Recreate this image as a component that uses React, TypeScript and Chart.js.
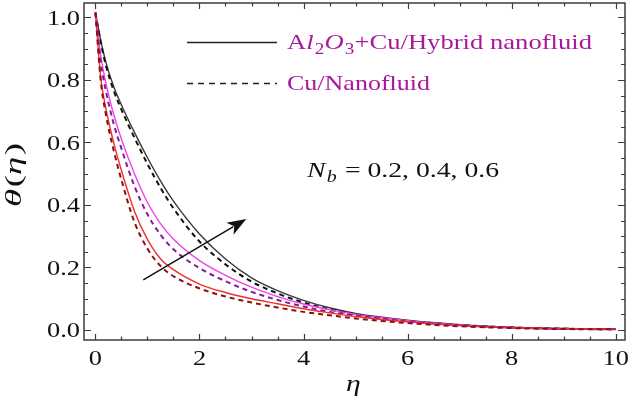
import React, { useEffect, useRef } from 'react';
import { Chart, registerables } from 'chart.js';

Chart.register(...registerables);

// ---- data ----
const eta = [0, 0.1, 0.2, 0.35, 0.5, 0.75, 1, 1.25, 1.5, 2, 2.5, 3, 3.5, 4, 4.5, 5, 6, 7, 8, 9, 10];
const hybridNb06 = [1.015, 0.928, 0.857, 0.779, 0.72, 0.632, 0.551, 0.477, 0.412, 0.307, 0.227, 0.167, 0.126, 0.095, 0.071, 0.053, 0.031, 0.017, 0.009, 0.005, 0.003];
const nanoNb06 = [1.015, 0.922, 0.847, 0.766, 0.705, 0.615, 0.531, 0.455, 0.389, 0.283, 0.21, 0.155, 0.117, 0.088, 0.066, 0.05, 0.029, 0.016, 0.008, 0.004, 0.002];
const hybridNb04 = [1.015, 0.88, 0.79, 0.69, 0.61, 0.5, 0.408, 0.34, 0.29, 0.222, 0.175, 0.137, 0.107, 0.083, 0.065, 0.05, 0.03, 0.016, 0.008, 0.004, 0.002];
const nanoNb04 = [1.015, 0.86, 0.765, 0.66, 0.58, 0.46, 0.37, 0.305, 0.258, 0.198, 0.156, 0.122, 0.096, 0.075, 0.058, 0.046, 0.027, 0.015, 0.008, 0.004, 0.002];
const hybridNb02 = [1.015, 0.81, 0.71, 0.6, 0.51, 0.38, 0.29, 0.228, 0.193, 0.147, 0.12, 0.1, 0.084, 0.068, 0.055, 0.043, 0.026, 0.014, 0.007, 0.004, 0.002];
const nanoNb02 = [1.015, 0.8, 0.69, 0.575, 0.48, 0.345, 0.26, 0.205, 0.172, 0.133, 0.107, 0.088, 0.072, 0.058, 0.047, 0.037, 0.022, 0.012, 0.006, 0.003, 0.002];

const xTickValues = [0, 2, 4, 6, 8, 10];
const yTickValues = [0, 0.2, 0.4, 0.6, 0.8, 1.0];
const legendHybrid = ['A', 'l', '2', 'O', '3', '+Cu/Hybrid nanofluid'];
const legendNano = 'Cu/Nanofluid';
const nbLabel = ['N', 'b', ' = 0.2, 0.4, 0.6'];
const arrowStart = [0.92, 0.16];
const arrowEnd = [2.9, 0.355];

const SERIF = "'Liberation Serif', 'Times New Roman', serif";
const STRETCH = 1.2;

type Run = { t: string; italic?: boolean; sub?: boolean };

function runsWidth(ctx: CanvasRenderingContext2D, runs: Run[], size: number) {
  let w = 0;
  for (const r of runs) {
    const fs = r.sub ? size * 0.72 : size;
    ctx.font = `${r.italic ? 'italic ' : ''}${fs}px ${SERIF}`;
    w += ctx.measureText(r.t).width + (r.italic ? 1 : 0);
  }
  return w;
}

// draws runs with baseline at (x,y); width stretched to target (or STRETCH factor)
function drawRuns(
  ctx: CanvasRenderingContext2D, x: number, y: number, runs: Run[], size: number, color: string,
  opts: { target?: number; align?: 'left' | 'center' | 'right'; rotate?: number } = {},
) {
  ctx.save();
  const w = runsWidth(ctx, runs, size);
  const sx = opts.target ? opts.target / w : STRETCH;
  ctx.translate(x, y);
  if (opts.rotate) ctx.rotate(opts.rotate);
  ctx.scale(sx, 1);
  ctx.fillStyle = color;
  ctx.textBaseline = 'alphabetic';
  ctx.textAlign = 'left';
  let cx = opts.align === 'center' ? -w / 2 : opts.align === 'right' ? -w : 0;
  for (const r of runs) {
    const fs = r.sub ? size * 0.72 : size;
    ctx.font = `${r.italic ? 'italic ' : ''}${fs}px ${SERIF}`;
    ctx.fillText(r.t, cx, r.sub ? size * 0.22 : 0);
    cx += ctx.measureText(r.t).width + (r.italic ? 1 : 0);
  }
  ctx.restore();
}

const decorPlugin = {
  id: 'decor',
  afterDatasetsDraw(chart: any) {
    const ctx: CanvasRenderingContext2D = chart.ctx;
    const { left, right, top, bottom } = chart.chartArea;
    const xs = chart.scales.x;
    const ys = chart.scales.y;
    ctx.save();
    // frame
    ctx.strokeStyle = '#3c3c3c';
    ctx.lineWidth = 1.5;
    ctx.strokeRect(left, top, right - left, bottom - top);
    // tick marks
    ctx.lineWidth = 1.2;
    ctx.beginPath();
    for (let i = 0; i <= 20; i++) {
      const v = i * 0.5;
      const px = Math.round(xs.getPixelForValue(v)) + 0.5;
      const L = i % 4 === 0 ? 6 : 3.5;
      ctx.moveTo(px, bottom); ctx.lineTo(px, bottom - L);
      ctx.moveTo(px, top); ctx.lineTo(px, top + L);
    }
    for (let i = 0; i <= 20; i++) {
      const v = i * 0.05;
      const py = Math.round(ys.getPixelForValue(v)) + 0.5;
      const L = i % 4 === 0 ? 7 : 4;
      ctx.moveTo(left, py); ctx.lineTo(left + L, py);
      ctx.moveTo(right, py); ctx.lineTo(right - L, py);
    }
    ctx.stroke();

    // tick labels (from the scales' ticks)
    for (const t of xs.ticks) {
      drawRuns(ctx, xs.getPixelForValue(t.value), 365, [{ t: String(t.value) }], 22, '#111', { align: 'center' });
    }
    for (const t of ys.ticks) {
      drawRuns(ctx, 80, ys.getPixelForValue(t.value) + 7.5, [{ t: Number(t.value).toFixed(1) }], 22, '#111', { align: 'right' });
    }

    // arrow
    const x0 = xs.getPixelForValue(arrowStart[0]);
    const y0 = ys.getPixelForValue(arrowStart[1]);
    const x1 = xs.getPixelForValue(arrowEnd[0]);
    const y1 = ys.getPixelForValue(arrowEnd[1]);
    const ang = Math.atan2(y1 - y0, x1 - x0);
    const hl = 19, hw = 7;
    const bx = x1 - hl * Math.cos(ang);
    const by = y1 - hl * Math.sin(ang);
    ctx.strokeStyle = '#111';
    ctx.fillStyle = '#111';
    ctx.lineWidth = 1.5;
    ctx.beginPath();
    ctx.moveTo(x0, y0);
    ctx.lineTo(bx + 4 * Math.cos(ang), by + 4 * Math.sin(ang));
    ctx.stroke();
    ctx.beginPath();
    ctx.moveTo(x1, y1);
    ctx.lineTo(bx + hw * Math.sin(ang), by - hw * Math.cos(ang));
    ctx.lineTo(bx + 5 * Math.cos(ang), by + 5 * Math.sin(ang));
    ctx.lineTo(bx - hw * Math.sin(ang), by + hw * Math.cos(ang));
    ctx.closePath();
    ctx.fill();

    // N_b annotation
    drawRuns(ctx, 307, 177, [
      { t: nbLabel[0], italic: true },
      { t: nbLabel[1], italic: true, sub: true },
      { t: nbLabel[2] },
    ], 22, '#111', { target: 192 });

    // legend
    ctx.strokeStyle = '#222';
    ctx.lineWidth = 1.5;
    ctx.setLineDash([]);
    ctx.beginPath();
    ctx.moveTo(187, 42.5); ctx.lineTo(277, 42.5);
    ctx.stroke();
    ctx.setLineDash([6, 5]);
    ctx.beginPath();
    ctx.moveTo(187, 83.5); ctx.lineTo(277, 83.5);
    ctx.stroke();
    ctx.setLineDash([]);
    const legColor = '#a8189c';
    drawRuns(ctx, 287, 49, [
      { t: legendHybrid[0] },
      { t: legendHybrid[1], italic: true },
      { t: legendHybrid[2], sub: true },
      { t: legendHybrid[3], italic: true },
      { t: legendHybrid[4], sub: true },
      { t: legendHybrid[5] },
    ], 22, legColor, { target: 305 });
    drawRuns(ctx, 287, 90, [{ t: legendNano }], 22, legColor, { target: 143 });

    // axis titles
    drawRuns(ctx, 354, 391, [{ t: '\u03b7', italic: true }], 23, '#111', { align: 'center', target: 16 });
    drawRuns(ctx, 21, 175, [
      { t: '\u03b8', italic: true }, { t: '(' }, { t: '\u03b7', italic: true }, { t: ')' },
    ], 24, '#111', { align: 'center', target: 64, rotate: -Math.PI / 2 });

    ctx.restore();
  },
};

export default function App() {
  const ref = useRef<HTMLCanvasElement | null>(null);
  useEffect(() => {
    if (!ref.current) return;
    const mk = (ys: number[], color: string, dashed: boolean) => ({
      data: eta.map((x, i) => ({ x, y: ys[i] })),
      borderColor: color,
      borderWidth: dashed ? 2 : 1.4,
      borderDash: dashed ? [5, 4] : [],
      pointRadius: 0,
      fill: false,
      cubicInterpolationMode: 'monotone' as const,
    });
    const chart = new Chart(ref.current, {
      type: 'line',
      data: {
        datasets: [
          mk(nanoNb02, '#8e0f0f', true),
          mk(hybridNb02, '#ec3030', false),
          mk(nanoNb04, '#861a96', true),
          mk(hybridNb04, '#f040f0', false),
          mk(nanoNb06, '#111111', true),
          mk(hybridNb06, '#3a3a3a', false),
        ],
      },
      options: {
        animation: false,
        responsive: false,
        maintainAspectRatio: false,
        layout: { padding: { left: 0, top: 3, right: 4, bottom: 0 } },
        plugins: { legend: { display: false }, tooltip: { enabled: false } },
        scales: {
          x: {
            type: 'linear',
            min: -0.22,
            max: 10.18,
            afterFit: (s: any) => { s.height = 62; },
            grid: { display: false, drawTicks: false },
            border: { display: false },
            afterBuildTicks: (s: any) => { s.ticks = xTickValues.map((v) => ({ value: v })); },
            ticks: { display: false, autoSkip: false },
          },
          y: {
            type: 'linear',
            min: -0.032,
            max: 1.046,
            afterFit: (s: any) => { s.width = 84; },
            grid: { display: false, drawTicks: false },
            border: { display: false },
            afterBuildTicks: (s: any) => { s.ticks = yTickValues.map((v) => ({ value: v })); },
            ticks: { display: false, autoSkip: false },
          },
        },
      },
      plugins: [decorPlugin],
    });
    return () => chart.destroy();
  }, []);
  return (
    <div style={{ position: 'fixed', left: 0, top: 0, width: 629, height: 402, background: '#fff' }}>
      <canvas ref={ref} width={629} height={402} style={{ width: 629, height: 402, display: 'block' }} />
    </div>
  );
}
